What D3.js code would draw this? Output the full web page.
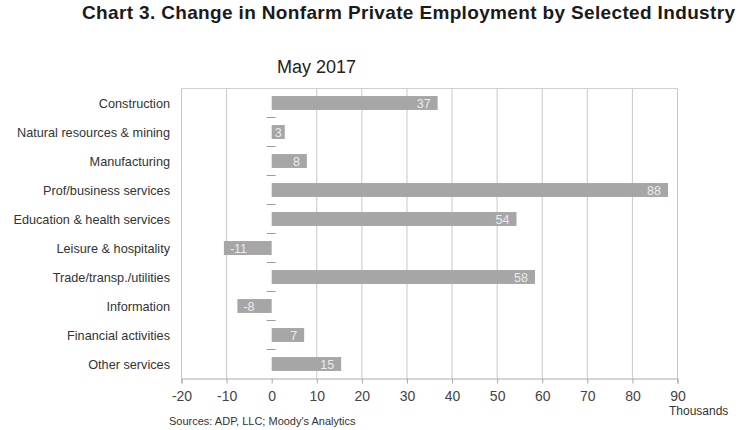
<!DOCTYPE html>
<html>
<head>
<meta charset="utf-8">
<script src="https://cdn.jsdelivr.net/npm/d3@7"></script>
<style>
  html, body { margin: 0; padding: 0; background: #fff; }
  svg { display: block; font-family: "Liberation Sans", Arial, sans-serif; }
</style>
</head>
<body>
<svg id="chart" width="744" height="430"></svg>
<script>
const categories = [
  "Construction",
  "Natural resources & mining",
  "Manufacturing",
  "Prof/business services",
  "Education & health services",
  "Leisure & hospitality",
  "Trade/transp./utilities",
  "Information",
  "Financial activities",
  "Other services"
];
const values = [36.8, 2.9, 7.8, 87.9, 54.3, -10.6, 58.4, -7.6, 7.2, 15.4];
const xTicks = [-20, -10, 0, 10, 20, 30, 40, 50, 60, 70, 80, 90];
const titleText = "Chart 3. Change in Nonfarm Private Employment by Selected Industry";
const subtitleText = "May 2017";
const unitText = "Thousands";
const sourceText = "Sources: ADP, LLC; Moody's Analytics";

const svg = d3.select("#chart");
const margin = { left: 181.5, right: 744 - 677.5, top: 88.5, bottom: 430 - 378.5 };
const W = 744, H = 430;
const fmt = v => String(Math.round(v)); // plain hyphen-minus as in the reference

const x = d3.scaleLinear().domain([-20, 90]).range([margin.left, W - margin.right]);
const y = d3.scaleBand().domain(categories).range([margin.top, H - margin.bottom]).paddingInner(0.52).paddingOuter(0.26);
const yb = d3.scaleBand().domain(categories).range([margin.top, H - margin.bottom]);

// Title
const title = svg.append("text")
  .attr("x", 82).attr("y", 19)
  .attr("font-size", 19).attr("font-weight", "bold").attr("fill", "#1a1a1a")
  .text(titleText);
const natural = title.node().getComputedTextLength();
title.attr("textLength", 653).attr("lengthAdjust", natural < 653 ? "spacing" : "spacingAndGlyphs");

svg.append("text")
  .attr("x", 277).attr("y", 73)
  .attr("font-size", 18).attr("fill", "#222")
  .text(subtitleText);

// Grid lines
const grid = svg.append("g");
grid.selectAll("line")
  .data(xTicks.filter(t => t !== 0))
  .join("line")
  .attr("x1", d => x(d)).attr("x2", d => x(d))
  .attr("y1", margin.top).attr("y2", H - margin.bottom)
  .attr("stroke", "#c8c8c8").attr("stroke-width", 1);
grid.append("line")
  .attr("x1", x(-20)).attr("x2", x(90))
  .attr("y1", margin.top).attr("y2", margin.top)
  .attr("stroke", "#d0d0d0");

// X axis
const xAxis = svg.append("g")
  .attr("transform", `translate(0,${H - margin.bottom})`)
  .call(d3.axisBottom(x).tickValues(xTicks).tickSize(5).tickPadding(8).tickFormat(fmt));
xAxis.select(".domain").attr("stroke", "#aaaaaa");
xAxis.selectAll(".tick line").attr("stroke", "#aaaaaa");
xAxis.selectAll(".tick text")
  .attr("font-size", 14).attr("fill", "#444")
  .attr("font-family", "'Liberation Sans', Arial, sans-serif");

// Bars
svg.append("g").selectAll("rect")
  .data(values)
  .join("rect")
  .attr("x", d => x(Math.min(0, d)))
  .attr("width", d => Math.abs(x(d) - x(0)))
  .attr("y", (d, i) => y(categories[i]))
  .attr("height", y.bandwidth())
  .attr("fill", "#a6a6a6");

// Zero axis ticks at band boundaries
const bounds = categories.map(c => yb(c)).slice(1);
svg.append("g").selectAll("line")
  .data(bounds)
  .join("line")
  .attr("x1", x(0) - 5).attr("x2", x(0) + 4)
  .attr("y1", d => d).attr("y2", d => d)
  .attr("stroke", "#9a9a9a");

// Category labels
svg.append("g").selectAll("text")
  .data(categories)
  .join("text")
  .attr("x", 170)
  .attr("y", d => yb(d) + yb.bandwidth() / 2)
  .attr("dy", "0.36em")
  .attr("text-anchor", "end")
  .attr("font-size", 12.7).attr("fill", "#333")
  .text(d => d);

// Bar value labels
svg.append("g").selectAll("text")
  .data(values)
  .join("text")
  .each(function (d, i) {
    const t = d3.select(this)
      .attr("font-size", 12.5).attr("fill", "#ececec")
      .attr("y", yb(categories[i]) + yb.bandwidth() / 2)
      .attr("dy", "0.36em")
      .text(fmt(d));
    const w = this.getComputedTextLength();
    const barW = Math.abs(x(d) - x(0));
    if (barW < w + 10) {
      t.attr("x", (x(d) + x(0)) / 2).attr("text-anchor", "middle");
    } else if (d >= 0) {
      t.attr("x", x(d) - 7).attr("text-anchor", "end");
    } else {
      t.attr("x", x(d) + 6).attr("text-anchor", "start");
    }
  });

// Unit label
svg.append("text")
  .attr("x", 669).attr("y", 415)
  .attr("font-size", 12).attr("fill", "#333")
  .text(unitText);

// Source
svg.append("text")
  .attr("x", 169).attr("y", 425)
  .attr("font-size", 11).attr("fill", "#333")
  .text(sourceText);
</script>
</body>
</html>
